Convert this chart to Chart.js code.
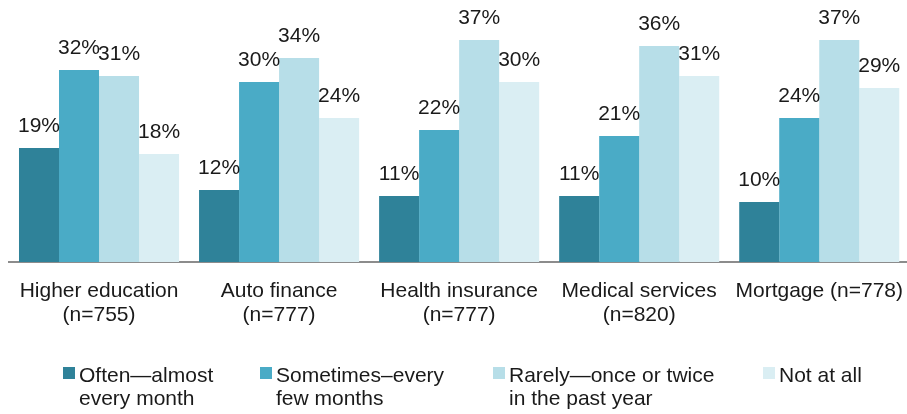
<!DOCTYPE html>
<html>
<head>
<meta charset="utf-8">
<script src="https://cdn.jsdelivr.net/npm/chart.js@4"></script>
<style>
  html, body { margin: 0; padding: 0; background: #fff; overflow: hidden; }
  #wrap { position: relative; width: 907px; height: 414px; overflow: hidden; font-family: "Liberation Sans", Arial, sans-serif; }
  #legend { position: absolute; left: 0; top: 363px; width: 907px; color: #1a1a1a; font-size: 21px; line-height: 23px; }
  .item { position: absolute; top: 0; display: flex; align-items: flex-start; white-space: nowrap; }
  .item:nth-child(1) { left: 63px; }
  .item:nth-child(2) { left: 260px; }
  .item:nth-child(3) { left: 493px; }
  .item:nth-child(4) { left: 763px; }
  .box { width: 12px; height: 12px; margin-top: 4px; margin-right: 4px; flex: none; }
</style>
</head>
<body>
<div id="wrap">
  <canvas id="chart" width="920" height="414"></canvas>
  <div id="legend"></div>
</div>
<script>
const categories = [
  ["Higher education", "(n=755)"],
  ["Auto finance", "(n=777)"],
  ["Health insurance", "(n=777)"],
  ["Medical services", "(n=820)"],
  "Mortgage (n=778)"
];
const seriesNames = [
  ["Often\u2014almost", "every month"],
  ["Sometimes\u2013every", "few months"],
  ["Rarely\u2014once or twice", "in the past year"],
  ["Not at all"]
];
const often = [19, 12, 11, 11, 10];
const sometimes = [32, 30, 22, 21, 24];
const rarely = [31, 34, 37, 36, 37];
const notAtAll = [18, 24, 30, 31, 29];
const colors = ['#2f8299', '#4aabc6', '#b7dee8', '#daeef3'];

// labels above each bar
const barLabels = {
  id: 'barLabels',
  afterDatasetsDraw(chart) {
    const ctx = chart.ctx;
    ctx.save();
    ctx.font = '21px "Liberation Sans", Arial, sans-serif';
    ctx.fillStyle = '#1a1a1a';
    ctx.textAlign = 'center';
    ctx.textBaseline = 'alphabetic';
    chart.data.datasets.forEach((ds, i) => {
      chart.getDatasetMeta(i).data.forEach((bar, j) => {
        ctx.fillText(ds.data[j] + '%', bar.x, bar.y - 16);
      });
    });
    ctx.restore();
  }
};

const allSeries = [often, sometimes, rarely, notAtAll];

new Chart(document.getElementById('chart'), {
  type: 'bar',
  data: {
    labels: categories,
    datasets: allSeries.map((values, i) => ({
      label: seriesNames[i].join(' '),
      data: values,
      backgroundColor: colors[i],
      borderWidth: 0,
      categoryPercentage: 0.889,
      barPercentage: 1.0
    }))
  },
  options: {
    responsive: false,
    animation: false,
    layout: { padding: { left: 9, right: 0, top: 22, bottom: 70 } },
    plugins: {
      legend: { display: false },
      tooltip: { enabled: false }
    },
    scales: {
      x: {
        grid: { display: false, drawTicks: false },
        border: { color: '#8c8c8c', width: 2 },
        ticks: {
          color: '#1a1a1a',
          padding: 17,
          maxRotation: 0,
          autoSkip: false,
          font: { family: '"Liberation Sans", Arial, sans-serif', size: 21, lineHeight: 1.14 }
        }
      },
      y: {
        display: false,
        min: 0,
        max: 40
      }
    }
  },
  plugins: [barLabels]
});

const legend = document.getElementById('legend');
seriesNames.forEach((name, i) => {
  const item = document.createElement('div');
  item.className = 'item';
  const box = document.createElement('div');
  box.className = 'box';
  box.style.background = colors[i];
  const text = document.createElement('div');
  text.innerHTML = name.join('<br>');
  item.appendChild(box);
  item.appendChild(text);
  legend.appendChild(item);
});
</script>
</body>
</html>
